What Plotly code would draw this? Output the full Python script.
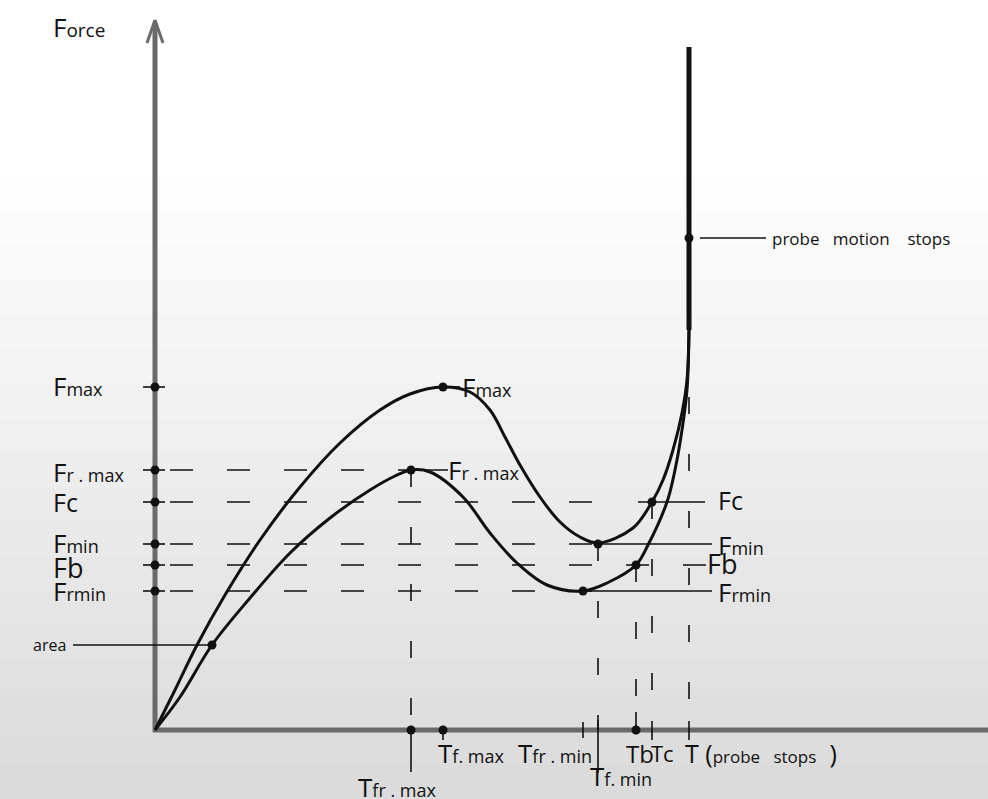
import plotly.graph_objects as go

# ---------------- data (time units on x, force units on y) ----------------
level_keys = ["Fmax", "Frmax", "Fc", "Fmin", "Fb", "Frmin"]
level_values = [343, 260, 228, 186, 165, 139]

time_keys = ["Tfrmax", "Tfmax", "Tfrmin", "Tfmin", "Tb", "Tc", "T"]
time_values = [256, 288, 428, 443, 481, 497, 534]

# force curve (F)
f_curve_t = [0, 20, 42, 70, 105, 145, 185, 225, 255, 288, 315, 335, 350, 365, 385, 405,
             425, 443, 478, 497, 508, 518, 527, 532, 534]
f_curve_y = [0, 40, 85, 135, 190, 243, 287, 320, 336, 343, 338, 320, 293, 265, 233, 208,
             193, 187, 202, 228, 250, 280, 317, 350, 400]

# resistance curve (Fr)
fr_curve_t = [0, 25, 57, 95, 135, 175, 215, 240, 256, 275, 308, 335, 362, 392, 428,
              452, 481, 493, 512, 520, 527, 532, 534]
fr_curve_y = [0, 33, 85, 132, 177, 212, 240, 254, 260, 258, 233, 197, 167, 145, 139,
              147, 165, 185, 228, 260, 300, 340, 400]

probe_stop_t = 534
probe_line_y = [400, 683]
probe_motion_y = 492
area_t, area_y = 57, 85

L = dict(zip(level_keys, level_values))
T = dict(zip(time_keys, time_values))

BLACK = "#111111"
GREY = "#6a6a6a"

fig = go.Figure()


def seg_trace(segs, width, dash="solid", color=BLACK):
    xs, ys = [], []
    for (x0, y0, x1, y1) in segs:
        xs += [x0, x1, None]
        ys += [y0, y1, None]
    fig.add_trace(go.Scatter(x=xs, y=ys, mode="lines", hoverinfo="skip",
                             line=dict(color=color, width=width, dash=dash),
                             showlegend=False))


# soft background shading (lower part of the picture is greyer)
shapes = []
n_steps = 18
for i in range(n_steps):
    top = 0.78 * (1 - i / n_steps)
    shapes.append(dict(type="rect", xref="paper", yref="paper", x0=0, x1=1, y0=0, y1=top,
                       fillcolor="rgba(0,0,0,0.008)", line=dict(width=0), layer="below"))

# axes (thick grey)
seg_trace([(0, -2, 0, 705), (-2, 0, 833, 0)], 5, color=GREY)
seg_trace([(0, 710, -8, 687), (0, 710, 8, 687)], 3, color=GREY)

# horizontal dashed guides
hd = [(15, L["Frmax"], 268, L["Frmax"]),
      (15, L["Fc"], 440, L["Fc"]),
      (15, L["Fmin"], 440, L["Fmin"]),
      (15, L["Fb"], 551, L["Fb"]),
      (15, L["Frmin"], 440, L["Frmin"])]
seg_trace(hd, 1.6, dash="23px,34px")

# solid leader lines to right labels
hs = [(T["Tfmax"], L["Fmax"], 305, L["Fmax"]),
      (T["Tfrmax"], L["Frmax"], 293, L["Frmax"]),
      (483, L["Fc"], 550, L["Fc"]),
      (T["Tfmin"], L["Fmin"], 557, L["Fmin"]),
      (T["Tfrmin"], L["Frmin"], 557, L["Frmin"]),
      (-82, area_y, area_t, area_y),
      (545, probe_motion_y, 611, probe_motion_y)]
seg_trace(hs, 1.6)

# y-axis tick marks
seg_trace([(-12, v, 10, v) for v in level_values], 1.6)

# vertical dashed guides
vd = [(T["Tfrmax"], L["Frmax"], T["Tfrmax"], 0),
      (T["Tfmin"], L["Fmin"], T["Tfmin"], 0),
      (T["Tb"], L["Fb"], T["Tb"], 0),
      (T["Tc"], L["Fc"], T["Tc"], 0),
      (T["T"], 390, T["T"], 0)]
seg_trace(vd, 1.6, dash="17px,40px")

# x-axis ticks
xt = [(T["Tfrmax"], 0, T["Tfrmax"], -42),
      (T["Tfmax"], 0, T["Tfmax"], -10),
      (T["Tfrmin"], 8, T["Tfrmin"], -8),
      (T["Tfmin"], 10, T["Tfmin"], -43),
      (T["Tb"], 18, T["Tb"], 0),
      (T["Tc"], 9, T["Tc"], -10),
      (T["T"], 9, T["T"], -10)]
seg_trace(xt, 1.6)

# curves
for cx, cy in [(f_curve_t, f_curve_y), (fr_curve_t, fr_curve_y)]:
    fig.add_trace(go.Scatter(x=cx, y=cy, mode="lines", hoverinfo="skip",
                             line=dict(color=BLACK, width=3, shape="spline", smoothing=1.0),
                             showlegend=False))
seg_trace([(probe_stop_t, probe_line_y[0], probe_stop_t, probe_line_y[1])], 5)

# dots
dot_x = [0] * len(level_values) + [T["Tfrmax"], T["Tfmax"], T["Tb"]] + \
        [T["Tfmax"], T["Tfrmax"], T["Tfmin"], T["Tfrmin"], T["Tb"], T["Tc"], area_t, probe_stop_t]
dot_y = list(level_values) + [0, 0, 0] + \
        [L["Fmax"], L["Frmax"], L["Fmin"], L["Frmin"], L["Fb"], L["Fc"], area_y, probe_motion_y]
fig.add_trace(go.Scatter(x=dot_x, y=dot_y, mode="markers", hoverinfo="skip",
                         marker=dict(color=BLACK, size=9), showlegend=False))

# ---------------- text ----------------
FONT = "Open Sans, Noto Sans, sans-serif"
ann = []


def lab(x, y, big, small, xa="left", bs=26, ss=18):
    txt = big + (f"<span style='font-size:{ss}px'>{small}</span>" if small else "")
    ann.append(dict(x=x, y=y, text=txt, showarrow=False, xanchor=xa, yanchor="middle",
                    font=dict(family=FONT, size=bs, color=BLACK)))


def plain(x, y, text, size, xa="left"):
    ann.append(dict(x=x, y=y, text=text, showarrow=False, xanchor=xa, yanchor="middle",
                    font=dict(family=FONT, size=size, color=BLACK)))


# left labels
lab(-104, 703, "F", "orce", ss=19)
lab(-104, 344, "F", "max")
lab(-104, 258, "F", "r . max")
plain(-104, 228, "Fc", 25)
lab(-104, 187, "F", "min")
plain(-104, 163, "Fb", 27)
lab(-104, 139, "F", "rmin")
plain(-87, area_y, "area", 16, xa="right")

# right labels
lab(305, 343, "F", "max")
lab(291, 260, "F", "r . max")
plain(561, 230, "Fc", 25)
lab(561, 185, "F", "min")
plain(550, 167, "Fb", 27)
lab(561, 138, "F", "rmin")
plain(615, probe_motion_y, "probe&nbsp;&nbsp; motion&nbsp;&nbsp;&nbsp; stops", 17)

# bottom labels
lab(201, -57, "T", "fr . max")
lab(281, -23, "T", "f. max")
lab(361, -23, "T", "fr . min")
lab(433, -46, "T", "f. min")
plain(469, -23, "Tb", 24)
plain(494, -23, "Tc", 22)
ann.append(dict(x=528, y=-23,
                text="T (<span style='font-size:17px'>probe&nbsp;&nbsp; stops&nbsp;&nbsp;&nbsp;</span>)",
                showarrow=False, xanchor="left", yanchor="middle",
                font=dict(family=FONT, size=25, color=BLACK)))

fig.update_layout(
    width=988, height=799,
    margin=dict(l=0, r=0, t=0, b=0),
    paper_bgcolor="white", plot_bgcolor="rgba(0,0,0,0)",
    xaxis=dict(range=[-155, 833], visible=False, fixedrange=True),
    yaxis=dict(range=[-69, 730], visible=False, fixedrange=True),
    shapes=shapes, annotations=ann, showlegend=False,
)

fig.write_html("out.html", config={"displayModeBar": False},
               post_script="document.body.style.margin='0px';document.body.style.overflow='hidden';")
